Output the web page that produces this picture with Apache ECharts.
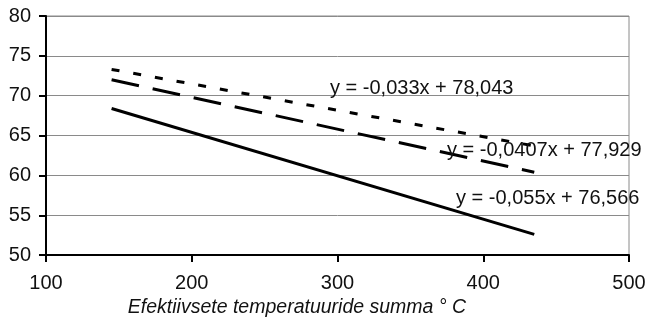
<!DOCTYPE html>
<html>
<head>
<meta charset="utf-8">
<script src="https://cdn.jsdelivr.net/npm/echarts@6/dist/echarts.min.js"></script>
<style>
  html, body { margin: 0; padding: 0; background: #fff; }
  #chart { width: 649px; height: 323px; }
</style>
</head>
<body>
<div id="chart"></div>
<script>
// values
const xEnds = [145, 435];
const dottedY = [73.3, 63.7];
const dashedY = [72.0, 60.4];
const solidY = [68.4, 52.6];
const equations = [
  "y = -0,033x + 78,043",
  "y = -0,0407x + 77,929",
  "y = -0,055x + 76,566",
];

const pairs = (ys) => xEnds.map((x, i) => [x, ys[i]]);

const font = "'Liberation Sans', Arial, sans-serif";
const textColor = "#111";

const chart = echarts.init(document.getElementById("chart"));

const lineSeries = (ys, dash) => ({
  type: "line",
  data: pairs(ys),
  showSymbol: false,
  symbol: "none",
  silent: true,
  lineStyle: { color: "#000", width: 3, type: dash, cap: "butt" },
});

chart.setOption({
  animation: false,
  grid: {
    left: 46,
    right: 20,
    top: 16,
    bottom: 66,
    show: true,
    borderColor: "#8a8a8a",
    borderWidth: 1,
  },
  xAxis: {
    type: "value",
    min: 100,
    max: 500,
    interval: 100,
    name: "Efektiivsete temperatuuride summa \u00b0 C",
    nameLocation: "middle",
    nameGap: 35,
    nameTextStyle: {
      fontFamily: font,
      fontSize: 19.5,
      fontStyle: "italic",
      color: textColor,
      padding: [0, 81, 0, 0],
    },
    axisLine: { lineStyle: { color: "#000", width: 2 } },
    axisTick: { show: true, inside: false, length: 7, lineStyle: { color: "#000", width: 2 } },
    axisLabel: { fontFamily: font, fontSize: 20, color: textColor, margin: 18 },
    splitLine: { show: false },
  },
  yAxis: {
    type: "value",
    min: 50,
    max: 80,
    interval: 5,
    axisLine: { show: true, lineStyle: { color: "#000", width: 2 } },
    axisTick: { show: true, inside: false, length: 7, lineStyle: { color: "#000", width: 2 } },
    axisLabel: { fontFamily: font, fontSize: 20, color: textColor, margin: 15 },
    splitLine: { show: true, lineStyle: { color: "#8a8a8a", width: 1 } },
  },
  series: [
    lineSeries(dottedY, [8, 14]),
    lineSeries(dashedY, [28, 14]),
    lineSeries(solidY, "solid"),
  ],
  graphic: [
    { left: 330, top: 78, text: equations[0] },
    { left: 447, top: 140, text: equations[1] },
    { left: 456, top: 188, text: equations[2] },
  ].map((g) => ({
    type: "text",
    left: g.left,
    top: g.top,
    z: 100,
    style: { text: g.text, fontFamily: font, fontSize: 20, fill: textColor },
  })),
});
</script>
</body>
</html>
